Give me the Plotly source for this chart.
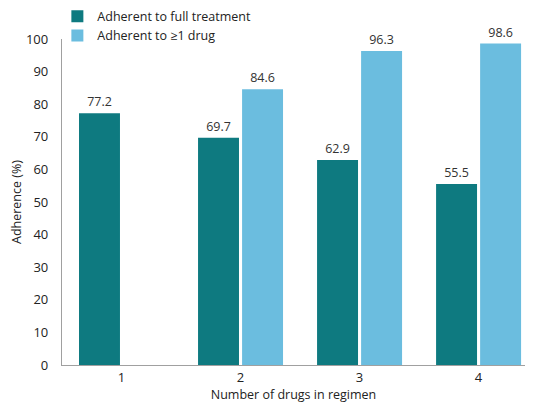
import plotly.graph_objects as go

categories = ["1", "2", "3", "4"]
full_treatment = [77.2, 69.7, 62.9, 55.5]
one_drug = [None, 84.6, 96.3, 98.6]
y_ticks = [0, 10, 20, 30, 40, 50, 60, 70, 80, 90, 100]

TEAL = "#0e7a80"
BLUE = "#6bbddf"
FONT = "Open Sans"

fig = go.Figure()
fig.add_trace(go.Bar(
    x=categories, y=full_treatment, name="Adherent to full treatment",
    marker=dict(color=TEAL, line=dict(width=0)),
    text=[f"{v:.1f}" for v in full_treatment], textposition="outside",
    textfont=dict(size=12.5, color="#333333", family=FONT), cliponaxis=False,
))
fig.add_trace(go.Bar(
    x=categories, y=one_drug, name="Adherent to \u22651 drug",
    marker=dict(color=BLUE, line=dict(width=0)),
    text=["" if v is None else f"{v:.1f}" for v in one_drug], textposition="outside",
    textfont=dict(size=12.5, color="#333333", family=FONT), cliponaxis=False,
))

fig.update_layout(
    width=526, height=399,
    margin=dict(l=54, r=9, t=31, b=42, autoexpand=False),
    paper_bgcolor="white", plot_bgcolor="white",
    font=dict(family=FONT, size=12.5, color="#222222"),
    barmode="group", bargap=0.26, bargroupgap=0.07,
    showlegend=True,
    legend=dict(x=-0.01, y=1.115, xanchor="left", yanchor="top",
                bgcolor="rgba(0,0,0,0)", font=dict(size=12.5, color="#222222"),
                tracegroupgap=0, itemsizing="constant"),
    xaxis=dict(range=[-0.5, 3.39], showline=True, linecolor="#a0a0a0", linewidth=1.3,
               ticks="", showgrid=False, zeroline=False,
               tickfont=dict(size=13, color="#222222"),
               title=dict(text="Number of drugs in regimen", standoff=2,
                          font=dict(size=12.5, color="#222222"))),
    yaxis=dict(range=[0, 100], tickvals=y_ticks, showline=True, linecolor="#a0a0a0",
               linewidth=1.3, ticks="", showgrid=False, zeroline=False,
               ticklabelstandoff=10, tickfont=dict(size=13, color="#222222"),
               title=dict(text="Adherence (%)", standoff=8,
                          font=dict(size=12.5, color="#222222"))),
)

fig.write_html("out.html")
